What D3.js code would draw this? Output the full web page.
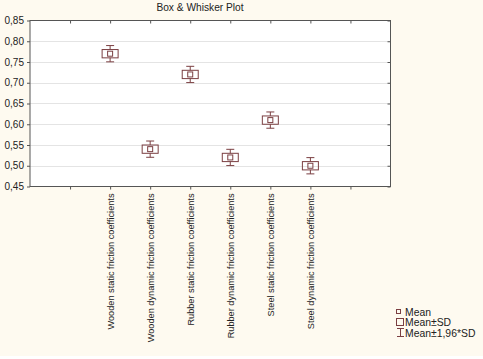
<!DOCTYPE html>
<html>
<head>
<meta charset="utf-8">
<script src="https://cdn.jsdelivr.net/npm/d3@7"></script>
<style>
  body { margin: 0; background: #fefaf0; }
  svg { display: block; font-family: "Liberation Sans", Arial, sans-serif; }
</style>
</head>
<body>
<svg class="svg-main" width="483" height="359"></svg>
<script>
const categories = [
  "Wooden static friction coefficients",
  "Wooden dynamic friction coefficients",
  "Rubber static friction coefficients",
  "Rubber dynamic friction coefficients",
  "Steel static friction coefficients",
  "Steel dynamic friction coefficients"
];
const means = [0.77, 0.54, 0.72, 0.52, 0.61, 0.50];
const sds = [0.01, 0.01, 0.01, 0.01, 0.01, 0.01];
const yTicks = [0.45, 0.50, 0.55, 0.60, 0.65, 0.70, 0.75, 0.80, 0.85];

const svg = d3.select('.svg-main');
const width = Number(svg.attr("width"));
const height = Number(svg.attr("height"));

const col = "#7b3f42";
const pLeft = 30, pRight = 390.5, pTop = 20.5, pBottom = 186.5;

svg.append("rect").attr("width", width).attr("height", height).attr("fill", "#fefaf0");
svg.append("rect").attr("y", 356).attr("width", width).attr("height", 3).attr("fill", "#ffffff");

// category slots: one empty slot either side
const x = d3.scaleLinear().domain([0, categories.length + 3]).range([pLeft, pRight]);
const y = d3.scaleLinear().domain([0.45, 0.85]).range([pBottom, pTop]);

svg.append("rect")
  .attr("x", pLeft).attr("y", pTop)
  .attr("width", pRight - pLeft).attr("height", pBottom - pTop)
  .attr("fill", "#ffffff");

// grid
svg.append("g").selectAll("line")
  .data(yTicks.slice(1, -1))
  .enter().append("line")
    .attr("x1", pLeft).attr("x2", pRight)
    .attr("y1", (d) => Math.round(y(d)) + 0.5)
    .attr("y2", (d) => Math.round(y(d)) + 0.5)
    .attr("stroke", "#e4e4e4");

// axes
const fmt = (d) => d3.format(".2f")(d).replace(".", ",");
const yAxis = svg.append("g")
  .attr("transform", `translate(${pLeft},0)`)
  .call(d3.axisLeft(y).tickValues(yTicks).tickFormat(fmt).tickSize(3).tickPadding(3));
yAxis.select(".domain").remove();
yAxis.selectAll("text").attr("font-size", 10).attr("fill", "#222");
yAxis.selectAll("line").attr("stroke", "#555");

const yAxisR = svg.append("g")
  .attr("transform", `translate(${pRight},0)`)
  .call(d3.axisLeft(y).tickValues(yTicks).tickFormat("").tickSize(3));
yAxisR.select(".domain").remove();
yAxisR.selectAll("line").attr("stroke", "#555");

const xIdx = d3.range(1, categories.length + 3);
const xAxis = svg.append("g")
  .attr("transform", `translate(0,${pBottom})`)
  .call(d3.axisBottom(x).tickValues(xIdx).tickFormat((d) => categories[d - 2] || "").tickSize(3).tickPadding(4));
xAxis.select(".domain").remove();
xAxis.selectAll("line").attr("stroke", "#555");
xAxis.selectAll("text")
  .attr("font-size", 9.2)
  .attr("fill", "#222")
  .attr("transform", "rotate(-90)")
  .attr("text-anchor", "end")
  .attr("x", -7)
  .attr("y", 0)
  .attr("dy", "0.35em");

const xAxisT = svg.append("g")
  .attr("transform", `translate(0,${pTop})`)
  .call(d3.axisBottom(x).tickValues(xIdx).tickFormat("").tickSize(3));
xAxisT.select(".domain").remove();
xAxisT.selectAll("line").attr("stroke", "#555");

svg.append("rect")
  .attr("x", pLeft).attr("y", pTop)
  .attr("width", pRight - pLeft).attr("height", pBottom - pTop)
  .attr("fill", "none").attr("stroke", "#555");

// boxes
const rows = categories.map((c, i) => ({ i: i + 2, m: means[i], s: sds[i] }));
const g = svg.append("g").selectAll("g")
  .data(rows)
  .enter().append("g")
    .attr("fill", "none")
    .attr("stroke", col);

g.append("line")
  .attr("x1", (d) => x(d.i)).attr("x2", (d) => x(d.i))
  .attr("y1", (d) => y(d.m + 1.96 * d.s)).attr("y2", (d) => y(d.m + d.s));
g.append("line")
  .attr("x1", (d) => x(d.i)).attr("x2", (d) => x(d.i))
  .attr("y1", (d) => y(d.m - d.s)).attr("y2", (d) => y(d.m - 1.96 * d.s));
g.append("line")
  .attr("x1", (d) => x(d.i) - 4).attr("x2", (d) => x(d.i) + 4)
  .attr("y1", (d) => y(d.m + 1.96 * d.s)).attr("y2", (d) => y(d.m + 1.96 * d.s));
g.append("line")
  .attr("x1", (d) => x(d.i) - 4).attr("x2", (d) => x(d.i) + 4)
  .attr("y1", (d) => y(d.m - 1.96 * d.s)).attr("y2", (d) => y(d.m - 1.96 * d.s));
g.append("rect")
  .attr("x", (d) => x(d.i) - 8).attr("width", 16)
  .attr("y", (d) => y(d.m + d.s)).attr("height", (d) => y(d.m - d.s) - y(d.m + d.s));
g.append("rect")
  .attr("x", (d) => x(d.i) - 2.5).attr("width", 5)
  .attr("y", (d) => y(d.m) - 2.5).attr("height", 5);

// title
svg.append("text")
  .attr("x", 200).attr("y", 11)
  .attr("text-anchor", "middle")
  .attr("font-size", 10.2)
  .attr("fill", "#222")
  .text("Box & Whisker Plot");

// legend
const lg = svg.append("g").attr("font-size", 10.4).attr("fill", "#222");
lg.append("rect").attr("x", 396.5).attr("y", 309.5).attr("width", 4).attr("height", 4)
  .attr("fill", "none").attr("stroke", col);
lg.append("text").attr("x", 405).attr("y", 315.5).text("Mean");
lg.append("rect").attr("x", 396.5).attr("y", 318.5).attr("width", 7).attr("height", 7)
  .attr("fill", "none").attr("stroke", col);
lg.append("text").attr("x", 405).attr("y", 326).text("Mean±SD");
const wk = lg.append("g").attr("stroke", col).attr("fill", "none");
wk.append("line").attr("x1", 397).attr("x2", 404).attr("y1", 328.5).attr("y2", 328.5);
wk.append("line").attr("x1", 400.5).attr("x2", 400.5).attr("y1", 328.5).attr("y2", 336.5);
wk.append("line").attr("x1", 397).attr("x2", 404).attr("y1", 336.5).attr("y2", 336.5);
lg.append("text").attr("x", 405).attr("y", 337).text("Mean±1,96*SD");
</script>
</body>
</html>
